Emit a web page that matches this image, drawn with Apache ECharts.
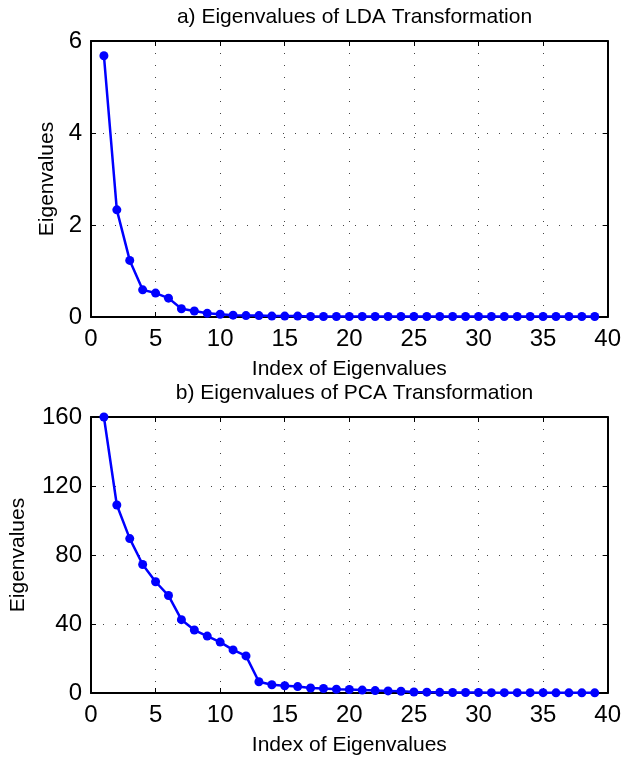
<!DOCTYPE html>
<html>
<head>
<meta charset="utf-8">
<script src="https://cdn.jsdelivr.net/npm/echarts@6/dist/echarts.min.js"></script>
<style>
  html, body { margin: 0; padding: 0; background: #fff; }
  #chart { width: 624px; height: 760px; }
</style>
</head>
<body>
<div id="chart"></div>
<script>
// 特征值序号 1..39
const indices = [1,2,3,4,5,6,7,8,9,10,11,12,13,14,15,16,17,18,19,20,21,22,23,24,25,26,27,28,29,30,31,32,33,34,35,36,37,38,39]

// a) LDA 特征值
const ldaValues = [5.68, 2.33, 1.23, 0.59, 0.52, 0.41, 0.18, 0.13, 0.08, 0.06, 0.04, 0.03, 0.03, 0.02, 0.02,
  0.02, 0.01, 0.01, 0.01, 0.01, 0.01, 0.01, 0.01, 0.01, 0.01, 0.01, 0.01, 0.01, 0.01, 0.01,
  0.01, 0.01, 0.01, 0.01, 0.01, 0.01, 0.01, 0.01, 0.01]

// b) PCA 特征值
const pcaValues = [160, 109, 89.5, 74.5, 64.5, 56.5, 42.5, 36.5, 33, 29.5, 25, 21.5, 6.5, 4.8, 4.2,
  3.7, 2.9, 2.6, 2.2, 2.0, 1.7, 1.4, 1.2, 1.0, 0.6, 0.5, 0.4, 0.3, 0.3, 0.3,
  0.2, 0.2, 0.2, 0.2, 0.2, 0.1, 0.1, 0.1, 0.1]

const titles = ['a) Eigenvalues of LDA Transformation', 'b) Eigenvalues of PCA Transformation']
const xName = 'Index of Eigenvalues'
const yName = 'Eigenvalues'

const FONT = '"Liberation Sans", Arial, Helvetica, sans-serif'
const BLUE = '#0000ff'

const chart = echarts.init(document.getElementById('chart'), null, { renderer: 'canvas' })

// 网格位置 (Matlab 风格的双图)
const grids = [
  { left: 91, right: 16, top: 41, height: 276 },
  { left: 91, right: 16, top: 417, height: 276 },
]

const dottedSplit = { show: true, lineStyle: { color: '#444', width: 1, type: [1, 11] } }

function mainX(gi) {
  return {
    type: 'value', gridIndex: gi, min: 0, max: 40, interval: 5,
    name: xName, nameLocation: 'middle', nameGap: 42,
    nameTextStyle: { fontFamily: FONT, fontSize: 21, color: '#000' },
    axisLine: { show: true, onZero: false, lineStyle: { color: '#000', width: 2 } },
    axisTick: { show: true, inside: true, length: 5, lineStyle: { color: '#000', width: 1 } },
    axisLabel: { fontFamily: FONT, fontSize: 24, color: '#000', margin: 10 },
    splitLine: dottedSplit,
  }
}
function topX(gi) {
  return {
    type: 'value', gridIndex: gi, position: 'top', min: 0, max: 40, interval: 5,
    axisLine: { show: true, onZero: false, lineStyle: { color: '#000', width: 2 } },
    axisTick: { show: true, inside: true, length: 5, lineStyle: { color: '#000', width: 1 } },
    axisLabel: { show: false }, splitLine: { show: false },
  }
}
function mainY(gi, max, interval, gap) {
  return {
    type: 'value', gridIndex: gi, min: 0, max: max, interval: interval,
    name: yName, nameLocation: 'middle', nameGap: gap,
    nameTextStyle: { fontFamily: FONT, fontSize: 21, color: '#000' },
    axisLine: { show: true, onZero: false, lineStyle: { color: '#000', width: 2 } },
    axisTick: { show: true, inside: true, length: 5, lineStyle: { color: '#000', width: 1 } },
    axisLabel: { fontFamily: FONT, fontSize: 24, color: '#000', margin: 9 },
    splitLine: dottedSplit,
  }
}
function rightY(gi, max, interval) {
  return {
    type: 'value', gridIndex: gi, position: 'right', min: 0, max: max, interval: interval,
    axisLine: { show: true, onZero: false, lineStyle: { color: '#000', width: 2 } },
    axisTick: { show: true, inside: true, length: 5, lineStyle: { color: '#000', width: 1 } },
    axisLabel: { show: false }, splitLine: { show: false },
  }
}

function lineSeries(gi, values) {
  return {
    type: 'line',
    xAxisIndex: gi * 2, yAxisIndex: gi * 2,
    data: indices.map((x, i) => [x, values[i]]),
    symbol: 'circle', symbolSize: 9,
    showAllSymbol: true,
    itemStyle: { color: BLUE },
    lineStyle: { color: BLUE, width: 2.5 },
    animation: false,
    z: 5,
  }
}

const option = {
  backgroundColor: '#fff',
  animation: false,
  title: [
    { text: titles[0], left: 349.5, top: 2, textAlign: 'center',
      textStyle: { fontFamily: FONT, fontSize: 21, fontWeight: 'normal', color: '#000' } },
    { text: titles[1], left: 349.5, top: 378, textAlign: 'center',
      textStyle: { fontFamily: FONT, fontSize: 21, fontWeight: 'normal', color: '#000' } },
  ],
  grid: grids,
  xAxis: [mainX(0), topX(0), mainX(1), topX(1)],
  yAxis: [mainY(0, 6, 2, 33), rightY(0, 6, 2), mainY(1, 160, 40, 62), rightY(1, 160, 40)],
  series: [lineSeries(0, ldaValues), lineSeries(1, pcaValues)],
}

chart.setOption(option)
</script>
</body>
</html>
